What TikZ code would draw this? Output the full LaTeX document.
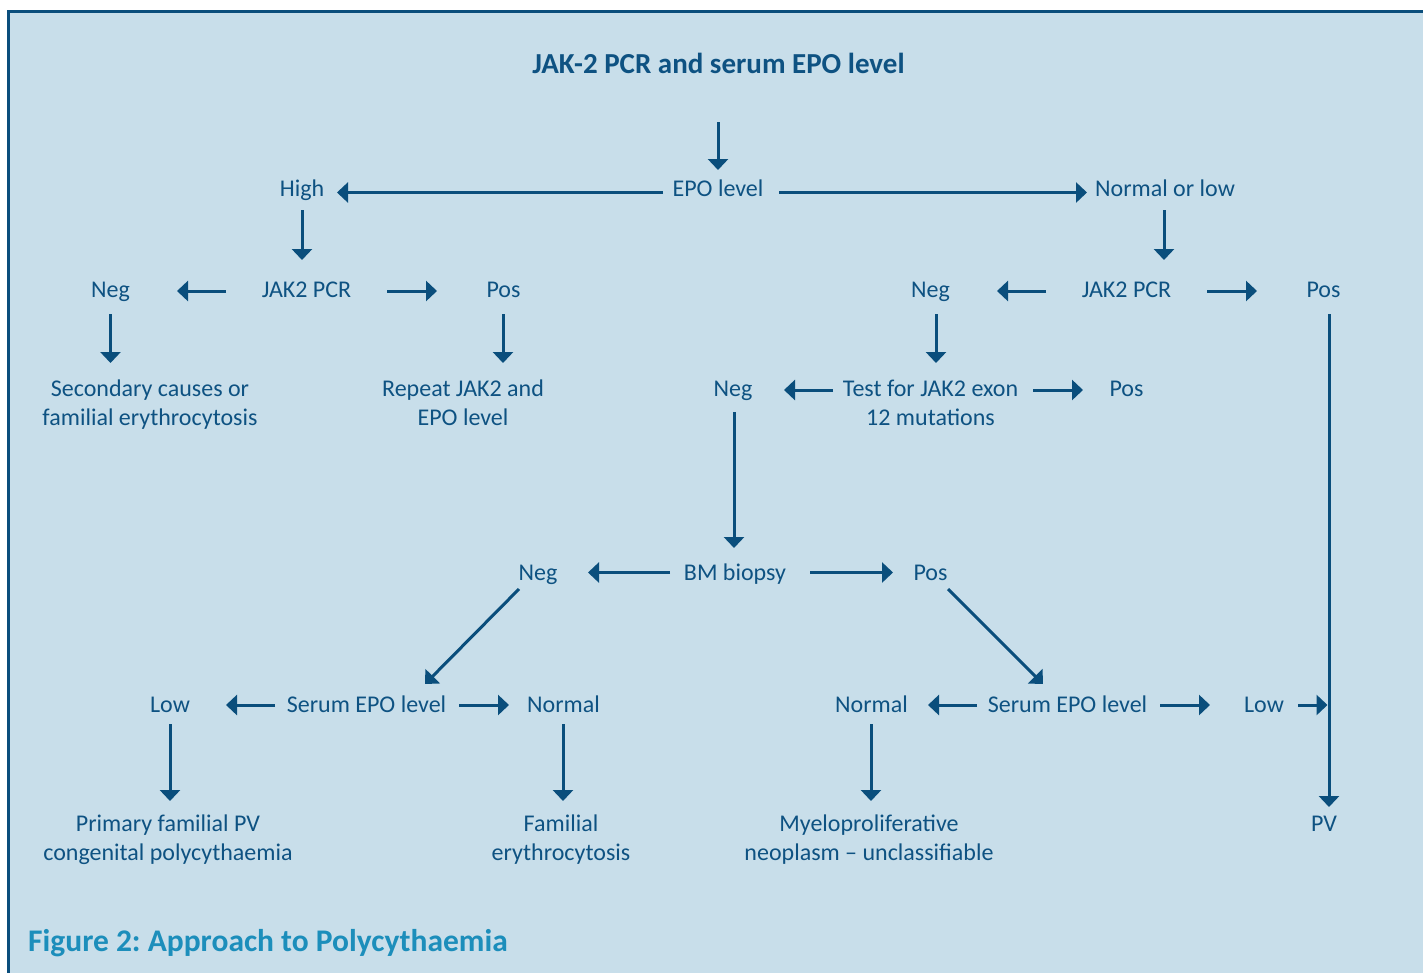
\documentclass[tikz,border=0pt]{standalone}
\usepackage{fontspec}
\setmainfont{Carlito}
\frenchspacing
\usetikzlibrary{arrows.meta}
\definecolor{bgblue}{HTML}{C8DEEA}
\definecolor{linecol}{HTML}{0A4E7C}
\definecolor{textcol}{HTML}{0E5282}
\definecolor{capcol}{HTML}{1C8EBB}
\tikzset{
  txt/.style={anchor=base, inner sep=0pt, text=textcol, align=center,
    font=\fontsize{24}{29}\selectfont},
  ttl/.style={txt, font=\fontsize{29}{34}\selectfont\bfseries},
  figcaption/.style={anchor=base west, inner sep=0pt, text=capcol,
    font=\fontsize{31.5}{36}\selectfont\bfseries},
  arr/.style={draw=linecol, line width=3pt, -{Triangle[width=20pt,length=11pt]}},
}
\begin{document}
\begin{tikzpicture}[x=1pt,y=-1pt]
\useasboundingbox (0,0) rectangle (1423,972);
\fill[white] (0,0) rectangle (1423,972);
\fill[bgblue] (8,11) rectangle (1430,980);
\draw[linecol, line width=2.8pt] (8.3,980) -- (8.3,11.3) -- (1430,11.3);

% title
\node[ttl] (title) at (718.5,73) {JAK-2 PCR and serum EPO level};
% row 1
\node[txt] (epo) at (718,196) {EPO level};
\node[txt] (high) at (302,196) {High};
\node[txt] (nol) at (1165,196) {Normal or low};
% row 2
\node[txt] (jakL) at (306.5,297.5) {JAK2 PCR};
\node[txt] (negL) at (110.5,297.5) {Neg};
\node[txt] (posL) at (503.5,297.5) {Pos};
\node[txt] (negR) at (930.5,297.5) {Neg};
\node[txt] (jakR) at (1126.5,297.5) {JAK2 PCR};
\node[txt] (posR) at (1323.5,297.5) {Pos};
% row 3 (base anchor = baseline of the last line)
\node[txt] (sec) at (150,425.5) {Secondary causes or\\familial erythrocytosis};
\node[txt] (rep) at (463,425.5) {Repeat JAK2 and\\EPO level};
\node[txt] (test) at (930.5,425.5) {Test for JAK2 exon\\12 mutations};
\node[txt] (negT) at (733,396.5) {Neg};
\node[txt] (posT) at (1126.5,396.5) {Pos};
% row 4
\node[txt] (bm) at (735,580) {BM biopsy};
\node[txt] (negB) at (538,580) {Neg};
\node[txt] (posB) at (930.5,580) {Pos};
% row 5
\node[txt] (serL) at (366.5,712.5) {Serum EPO level};
\node[txt] (lowL) at (170,712.5) {Low};
\node[txt] (normL) at (563.5,712.5) {Normal};
\node[txt] (normR) at (871.5,712.5) {Normal};
\node[txt] (serR) at (1067.5,712.5) {Serum EPO level};
\node[txt] (lowR) at (1264,712.5) {Low};
% row 6
\node[txt] (prim) at (168,860.5) {Primary familial PV\\congenital polycythaemia};
\node[txt] (fam) at (561,860.5) {Familial\\erythrocytosis};
\node[txt] (myelo) at (869,860.5) {Myeloproliferative\\neoplasm -- unclassifiable};
\node[txt] (pv) at (1324,831.5) {PV};
\coordinate (pvjoin) at (1327.5,705);
% caption
\node[figcaption] (caption) at (28,951.5) {Figure 2: Approach to Polycythaemia};

% arrows
\draw[arr] ([shift={(-0.5,49)}]title.base) -- ([shift={(0,-26)}]epo.base);
\draw[arr] ([shift={(-55,-3.5)}]epo.base) -- ([shift={(35,-3.5)}]high.base);
\draw[arr] ([shift={(61,-3.5)}]epo.base) -- ([shift={(-78,-3.5)}]nol.base);
\draw[arr] ([shift={(0,14)}]high.base) -- ([shift={(-4.5,-37.5)}]jakL.base);
\draw[arr] ([shift={(-1,14)}]nol.base) -- ([shift={(37.5,-37.5)}]jakR.base);
\draw[arr] ([shift={(-80.5,-6.5)}]jakL.base) -- ([shift={(66.5,-6.5)}]negL.base);
\draw[arr] ([shift={(80.5,-6.5)}]jakL.base) -- ([shift={(-66.5,-6.5)}]posL.base);
\draw[arr] ([shift={(-80.5,-6.5)}]jakR.base) -- ([shift={(66.5,-6.5)}]negR.base);
\draw[arr] ([shift={(80.5,-6.5)}]jakR.base) -- ([shift={(-66.5,-6.5)}]posR.base);
\draw[arr] ([shift={(0,16.5)}]negL.base) -- ([shift={(-39.5,-62.5)}]sec.base);
\draw[arr] ([shift={(-0.5,16.5)}]posL.base) -- ([shift={(40,-62.5)}]rep.base);
\draw[arr] ([shift={(5.5,16.5)}]negR.base) -- ([shift={(5.5,-62.5)}]test.base);
\draw[arr] ([shift={(5.5,16.5)}]posR.base) -- ([shift={(5,-24.5)}]pv.base);
\draw[arr] ([shift={(-97.5,-35.5)}]test.base) -- ([shift={(51,-6.5)}]negT.base);
\draw[arr] ([shift={(102.5,-35.5)}]test.base) -- ([shift={(-43.5,-6.5)}]posT.base);
\draw[arr] ([shift={(1,15.5)}]negT.base) -- ([shift={(-1,-32)}]bm.base);
\draw[arr] ([shift={(-65,-7.5)}]bm.base) -- ([shift={(50,-7.5)}]negB.base);
\draw[arr] ([shift={(75,-7.5)}]bm.base) -- ([shift={(-37.5,-7.5)}]posB.base);
\draw[arr] ([shift={(-19,9)}]negB.base) -- ([shift={(58.5,-28.5)}]serL.base);
\draw[arr] ([shift={(17.5,9)}]posB.base) -- ([shift={(-24.5,-28.5)}]serR.base);
\draw[arr] ([shift={(-91.5,-7.5)}]serL.base) -- ([shift={(56,-7.5)}]lowL.base);
\draw[arr] ([shift={(92.5,-7.5)}]serL.base) -- ([shift={(-54.5,-7.5)}]normL.base);
\draw[arr] ([shift={(-90.5,-7.5)}]serR.base) -- ([shift={(56.5,-7.5)}]normR.base);
\draw[arr] ([shift={(92.5,-7.5)}]serR.base) -- ([shift={(-54,-7.5)}]lowR.base);
\draw[arr] ([shift={(34,-7.5)}]lowR.base) -- (pvjoin);
\draw[arr] ([shift={(0,11.5)}]lowL.base) -- ([shift={(2,-59.5)}]prim.base);
\draw[arr] ([shift={(-0.5,11.5)}]normL.base) -- ([shift={(2,-59.5)}]fam.base);
\draw[arr] ([shift={(-0.5,11.5)}]normR.base) -- ([shift={(2,-59.5)}]myelo.base);
\end{tikzpicture}
\end{document}
